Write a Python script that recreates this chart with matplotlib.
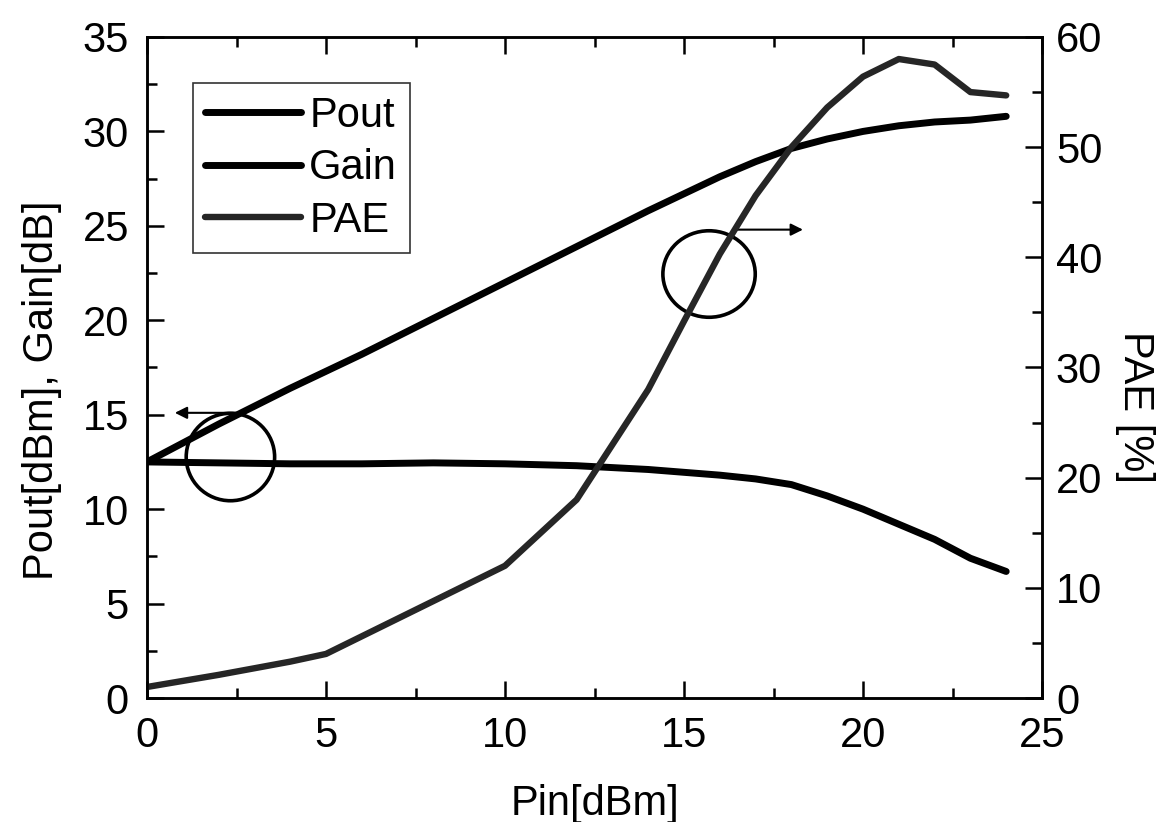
import numpy as np
import matplotlib.pyplot as plt
from matplotlib.patches import Ellipse
from matplotlib.ticker import MultipleLocator

# Данные
pin = [0, 2, 4, 5, 6, 8, 10, 12, 14, 15, 16, 17, 18, 19, 20, 21, 22, 23, 24]
pout = [12.5, 14.5, 16.4, 17.3, 18.2, 20.1, 22.0, 23.9, 25.8, 26.7, 27.6, 28.4, 29.1, 29.6, 30.0, 30.3, 30.5, 30.6, 30.8]
gain = [12.5, 12.45, 12.4, 12.4, 12.4, 12.45, 12.4, 12.3, 12.1, 11.95, 11.8, 11.6, 11.3, 10.7, 10.0, 9.2, 8.4, 7.4, 6.7]
pae = [1.0, 2.1, 3.3, 4.0, 5.6, 8.8, 12.0, 18.0, 28.0, 34.2, 40.3, 45.6, 50.0, 53.6, 56.4, 58.0, 57.5, 55.0, 54.7]

plt.rcParams['font.family'] = ['Liberation Sans', 'DejaVu Sans']
fs = 30

fig = plt.figure(figsize=(11.69, 8.22), dpi=100)
ax = fig.add_axes([147 / 1169, 1 - 698 / 822, (1042 - 147) / 1169, (698 - 37) / 822])
ax2 = ax.twinx()

l1, = ax.plot(pin, pout, color='black', lw=5, solid_capstyle='round', label='Pout')
l2, = ax.plot(pin, gain, color='black', lw=5, solid_capstyle='round', label='Gain')
l3, = ax2.plot(pin, pae, color='#262626', lw=4.6, solid_capstyle='round', label='PAE')

ax.set_xlim(0, 25)
ax.set_ylim(0, 35)
ax2.set_ylim(0, 60)

ax.xaxis.set_major_locator(MultipleLocator(5))
ax.xaxis.set_minor_locator(MultipleLocator(2.5))
ax.yaxis.set_major_locator(MultipleLocator(5))
ax.yaxis.set_minor_locator(MultipleLocator(2.5))
ax2.yaxis.set_major_locator(MultipleLocator(10))
ax2.yaxis.set_minor_locator(MultipleLocator(5))

ax.tick_params(which='both', direction='in', top=True, right=False, labelsize=fs, width=1.8)
ax.tick_params(which='major', length=12)
ax.tick_params(which='minor', length=7)
ax.tick_params(axis='x', which='major', pad=13)
ax.tick_params(axis='y', which='major', pad=13)
ax2.tick_params(which='both', direction='in', labelsize=fs, width=1.8)
ax2.tick_params(which='major', length=12, pad=10)
ax2.tick_params(which='minor', length=7)
for a in (ax, ax2):
    for s in a.spines.values():
        s.set_linewidth(1.8)

ax.set_xlabel('Pin[dBm]', fontsize=fs, labelpad=20)
ax.set_ylabel('Pout[dBm], Gain[dB]', fontsize=fs)
ax2.set_ylabel('PAE [%]', fontsize=fs, rotation=-90)
ax.yaxis.set_label_coords(-0.095, 0.465)
ax2.yaxis.set_label_coords(1.126, 0.44)

# Кружки со стрелками, указывающими ось
ax.add_patch(Ellipse((2.33, 12.76), 2.47, 4.63, fill=False, lw=2.6, color='black'))
ax.add_patch(Ellipse((15.7, 22.45), 2.58, 4.58, fill=False, lw=2.6, color='black'))
ax.annotate('', xy=(0.7, 15.1), xytext=(2.75, 15.1),
            arrowprops=dict(arrowstyle='-|>', color='black', lw=1.5, mutation_scale=18))
ax.annotate('', xy=(18.4, 24.8), xytext=(16.4, 24.8),
            arrowprops=dict(arrowstyle='-|>', color='black', lw=1.5, mutation_scale=18))

leg = ax.legend(handles=[l1, l2, l3], loc='upper left', bbox_to_anchor=(0.051, 0.93),
                fontsize=fs, frameon=True, fancybox=False, edgecolor='black',
                handlelength=2.3, handletextpad=0.2, labelspacing=0.3, borderpad=0.3,
                borderaxespad=0)
leg.get_frame().set_linewidth(1.2)

fig.savefig('out.png', dpi=100)
